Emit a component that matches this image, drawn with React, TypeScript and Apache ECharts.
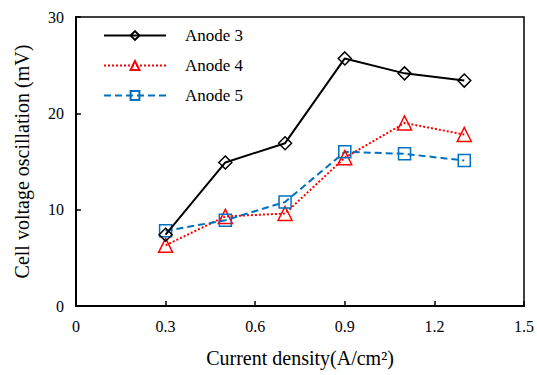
import React, { useEffect, useRef } from "react";
import * as echarts from "echarts";

const currentDensity = [0.3, 0.5, 0.7, 0.9, 1.1, 1.3];
const anode3 = [7.4, 14.9, 16.9, 25.7, 24.15, 23.4];
const anode4 = [6.3, 9.3, 9.6, 15.4, 19.0, 17.8];
const anode5 = [7.8, 8.9, 10.8, 16.0, 15.8, 15.1];
const seriesNames = ["Anode 3", "Anode 4", "Anode 5"];
const xTicks = [0, 0.3, 0.6, 0.9, 1.2, 1.5];
const yTicks = [0, 10, 20, 30];

const FONT = "'Times New Roman', 'Liberation Serif', 'DejaVu Serif', serif";

export default function App() {
  const ref = useRef<HTMLDivElement>(null);
  useEffect(() => {
    if (!ref.current) return;
    const chart = echarts.init(ref.current, undefined, { renderer: "svg" });
    const pair = (ys: number[]) => currentDensity.map((x, i) => [x, ys[i]]);
    chart.setOption({
      animation: false,
      backgroundColor: "#ffffff",
      textStyle: { fontFamily: FONT },
      grid: {
        left: 76,
        right: 13,
        top: 17,
        bottom: 69,
        show: true,
        borderColor: "#000",
        borderWidth: 1.5,
      },
      legend: {
        orient: "vertical",
        left: 98,
        top: 22,
        itemWidth: 62,
        itemHeight: 11,
        itemGap: 13,
        data: seriesNames,
        textStyle: {
          fontFamily: FONT,
          fontSize: 17,
          color: "#000",
          padding: [0, 0, 0, 14],
        },
      },
      xAxis: {
        type: "value",
        min: 0,
        max: 1.5,
        interval: 0.3,
        name: "Current density(A/cm²)",
        nameLocation: "middle",
        nameGap: 42,
        nameTextStyle: { fontFamily: FONT, fontSize: 20, color: "#000" },
        axisLine: { show: true, lineStyle: { color: "#000", width: 2 } },
        axisTick: { show: true, inside: true, length: 5, lineStyle: { color: "#000", width: 1.5 } },
        axisLabel: {
          fontFamily: FONT,
          fontSize: 16,
          color: "#000",
          margin: 12,
          formatter: (v: number) => {
            const t = xTicks.find((k) => Math.abs(k - v) < 1e-6);
            return t === undefined ? "" : String(t);
          },
        },
        splitLine: { show: false },
      },
      yAxis: {
        type: "value",
        min: 0,
        max: 30,
        interval: 10,
        name: "Cell voltage oscillation (mV)",
        nameLocation: "middle",
        nameGap: 44,
        nameTextStyle: { fontFamily: FONT, fontSize: 20, color: "#000" },
        axisLine: { show: true, lineStyle: { color: "#000", width: 2 } },
        axisTick: { show: true, inside: true, length: 5, lineStyle: { color: "#000", width: 1.5 } },
        axisLabel: {
          fontFamily: FONT,
          fontSize: 16,
          color: "#000",
          margin: 12,
          formatter: (v: number) => (yTicks.includes(v) ? String(v) : ""),
        },
        splitLine: { show: false },
      },
      series: [
        {
          name: seriesNames[0],
          type: "line",
          data: pair(anode3),
          symbol: "diamond",
          symbolSize: 13,
          lineStyle: { color: "#000", width: 2, type: "solid" },
          itemStyle: { color: "rgba(255,255,255,0)", borderColor: "#000", borderWidth: 1.5 },
          z: 3,
        },
        {
          name: seriesNames[1],
          type: "line",
          data: pair(anode4),
          symbol: "triangle",
          symbolSize: 14,
          lineStyle: { color: "#ff0000", width: 2, type: [2, 2] },
          itemStyle: { color: "rgba(255,255,255,0)", borderColor: "#ff0000", borderWidth: 1.5 },
          z: 2,
        },
        {
          name: seriesNames[2],
          type: "line",
          data: pair(anode5),
          symbol: "rect",
          symbolSize: 12,
          lineStyle: { color: "#0070c0", width: 2, type: [7, 4] },
          itemStyle: { color: "rgba(255,255,255,0)", borderColor: "#0070c0", borderWidth: 1.5 },
          z: 2,
        },
      ],
    });
    return () => chart.dispose();
  }, []);
  return (
    <div
      ref={ref}
      style={{ position: "absolute", left: 0, top: 0, width: 537, height: 375 }}
    />
  );
}
